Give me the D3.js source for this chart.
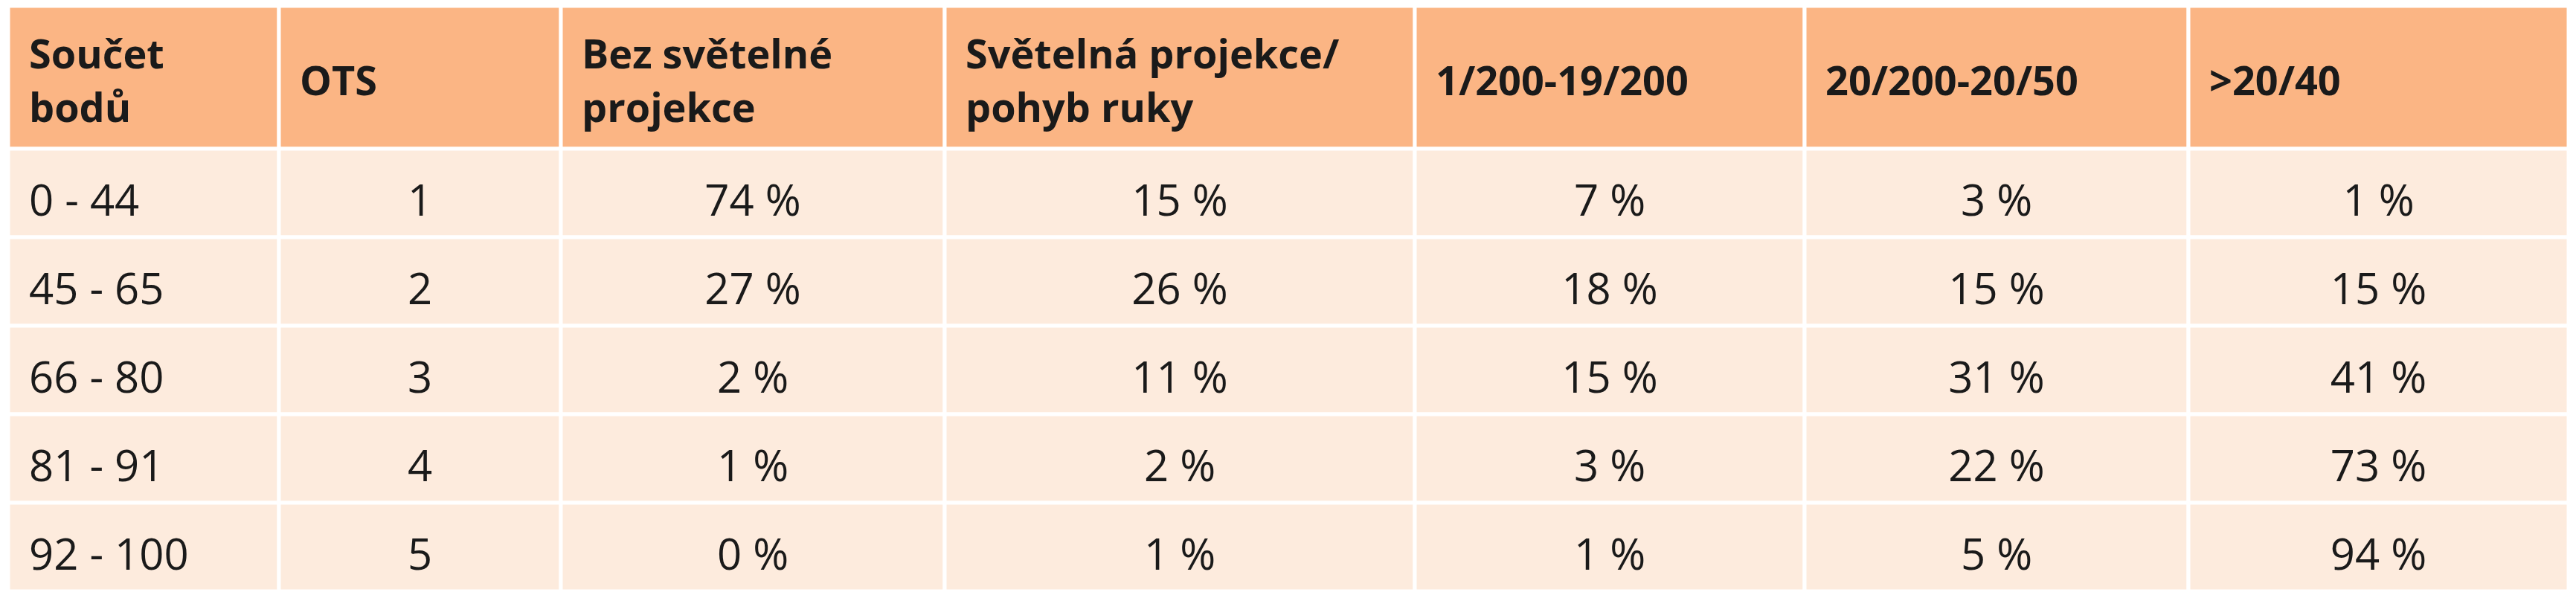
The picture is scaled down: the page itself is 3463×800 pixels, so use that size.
<!DOCTYPE html>
<html>
<head>
<meta charset="utf-8">
<script src="https://cdn.jsdelivr.net/npm/d3@7"></script>
<style>
  body { margin: 0; background: #fff; }
</style>
</head>
<body>
<div class="chart"></div>
<script>
// table data
const headers = [
  ['Součet', 'bodů'],
  ['OTS'],
  ['Bez světelné', 'projekce'],
  ['Světelná projekce/', 'pohyb ruky'],
  ['1/200-19/200'],
  ['20/200-20/50'],
  ['>20/40']
];
const scoreRanges = ['0 - 44', '45 - 65', '66 - 80', '81 - 91', '92 - 100'];
const otsValues = ['1', '2', '3', '4', '5'];
const noLight = [74, 27, 2, 1, 0];
const lightHand = [15, 26, 11, 2, 1];
const v1to19 = [7, 18, 15, 3, 1];
const v20to50 = [3, 15, 31, 22, 5];
const over2040 = [1, 15, 41, 73, 94];

const width = 3463, height = 800;
const colEdges = [11, 375, 754, 1270, 1902, 2426, 2942, 3453];
const headerTop = 8, headerBottom = 200, tableBottom = 795;

const rows = scoreRanges.map((s, i) => [
  s, otsValues[i],
  noLight[i] + ' %', lightHand[i] + ' %', v1to19[i] + ' %', v20to50[i] + ' %', over2040[i] + ' %'
]);

const y = d3.scaleBand()
  .domain(d3.range(rows.length))
  .range([headerBottom, tableBottom]);

const font = "'Liberation Sans Narrow', 'Open Sans', sans-serif";

let svg = d3.select('.chart')
  .append('svg')
    .attr('width', width)
    .attr('height', height);

// header cells
svg.selectAll('rect.head')
  .data(headers)
  .enter()
  .append('rect')
    .attr('class', 'head')
    .attr('x', (d, i) => colEdges[i])
    .attr('y', headerTop)
    .attr('width', (d, i) => colEdges[i + 1] - colEdges[i])
    .attr('height', headerBottom - headerTop)
    .style('fill', '#fbb584')
    .style('stroke', '#ffffff')
    .style('stroke-width', 5);

svg.selectAll('text.head')
  .data(headers)
  .enter()
  .append('text')
    .attr('class', 'head')
    .attr('x', (d, i) => colEdges[i] + 28)
    .attr('y', d => d.length === 1 ? 128 : 92)
    .style('font-family', font)
    .style('font-weight', 'bold')
    .style('font-size', '54px')
    .style('fill', '#1a1a1a')
    .each(function (d) {
      d3.select(this).selectAll('tspan')
        .data(d)
        .enter()
        .append('tspan')
          .attr('x', d3.select(this).attr('x'))
          .attr('dy', (t, j) => j === 0 ? 0 : 72)
          .text(t => t);
    });

// body cells
rows.forEach((row, r) => {
  let g = svg.append('g');
  g.selectAll('rect')
    .data(row)
    .enter()
    .append('rect')
      .attr('x', (d, i) => colEdges[i])
      .attr('y', y(r))
      .attr('width', (d, i) => colEdges[i + 1] - colEdges[i])
      .attr('height', y.bandwidth())
      .style('fill', '#fdebdd')
      .style('stroke', '#ffffff')
      .style('stroke-width', 5);

  g.selectAll('text')
    .data(row)
    .enter()
    .append('text')
      .attr('x', (d, i) => i === 0 ? colEdges[i] + 28 : (colEdges[i] + colEdges[i + 1]) / 2)
      .attr('y', y(r) + 90)
      .attr('text-anchor', (d, i) => i === 0 ? 'start' : 'middle')
      .style('font-family', font)
      .style('font-size', '58px')
      .style('fill', '#1a1a1a')
      .text(d => d);
});
</script>
</body>
</html>
